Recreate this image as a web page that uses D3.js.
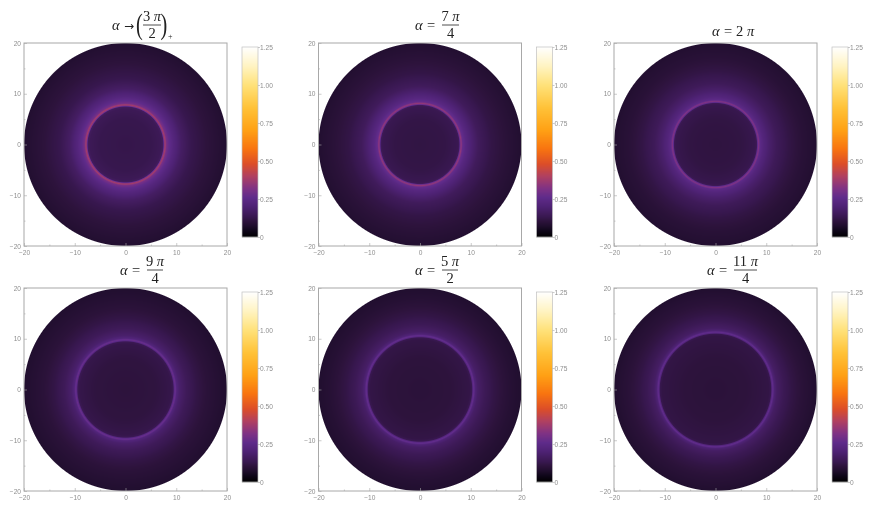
<!DOCTYPE html>
<html><head><meta charset="utf-8">
<style>
html,body{margin:0;padding:0;background:#fff;width:872px;height:518px;overflow:hidden}
#plot{position:absolute;left:0;top:0;filter:blur(0.45px)}
#over{position:absolute;left:0;top:0}
.tick text{font-family:"Liberation Sans",sans-serif;font-size:6.6px;fill:#8e8e8e}
.m{font-family:"Liberation Serif",serif;fill:#222;font-size:14.5px}
</style></head><body>
<canvas id="plot" width="872" height="518"></canvas>
<svg id="over" width="872" height="518"></svg>
<script src="https://cdn.jsdelivr.net/npm/d3@7"></script>
<script>
const axisTicks=[-20,-10,0,10,20];
const minorTicks=[-15,-5,5,15];
const barTicks=[0,0.25,0.5,0.75,1,1.25];
const barTickLabels=["0","0.25","0.50","0.75","1.00","1.25"];
const colorValues=[0,0.04,0.075,0.105,0.13,0.16,0.2,0.26,0.32,0.4,0.48,0.58,0.7,0.85,1.0,1.12,1.25];
const colorStops=["#000000","#0e0618","#200e2e","#2d133c","#37174e","#421c5e","#4e2274","#5f2b8a","#803284","#b04060","#dc4e28","#f87410","#ffa014","#ffc238","#ffe27a","#fff3c0","#ffffff"];
const titleOperators=["→","=","=","=","=","="];
const titleNumerators=["3 π","7 π","2 π","9 π","5 π","11 π"];
const titleDenominators=["2","4","","4","2","4"];
const radii1=[0,5,7,7.4,7.6,7.8,8.1,8.6,9.4,11,13,16,20];
const values1=[0.125,0.13,0.145,0.16,0.32,0.38,0.3,0.26,0.225,0.17,0.13,0.105,0.08];
const radii2=[0,5,7.4,7.7,7.9,8.1,8.4,9,10,11.5,14,17,20];
const values2=[0.115,0.12,0.135,0.15,0.29,0.35,0.27,0.235,0.2,0.155,0.12,0.098,0.08];
const radii3=[0,5,7.8,8.1,8.3,8.5,8.8,9.4,10.5,12,14.5,17,20];
const values3=[0.11,0.115,0.13,0.145,0.27,0.32,0.25,0.22,0.185,0.15,0.118,0.096,0.08];
const radii4=[0,6,9,9.4,9.6,9.8,10.1,10.6,12,14,16,18,20];
const values4=[0.105,0.11,0.125,0.14,0.24,0.28,0.215,0.185,0.15,0.12,0.1,0.088,0.077];
const radii5=[0,6,9.8,10.2,10.4,10.6,10.9,11.4,12.8,14.5,16.5,18,20];
const values5=[0.1,0.105,0.12,0.135,0.23,0.27,0.205,0.175,0.145,0.12,0.1,0.088,0.077];
const radii6=[0,6,10.5,10.9,11.1,11.3,11.6,12.1,13.5,15,17,18.5,20];
const values6=[0.1,0.105,0.118,0.13,0.225,0.265,0.2,0.17,0.14,0.118,0.098,0.088,0.077];
const allRadii=[radii1,radii2,radii3,radii4,radii5,radii6];
const allValues=[values1,values2,values3,values4,values5,values6];

const color=d3.scaleLinear().domain(colorValues).range(colorStops).clamp(true);
const colOrigins=[24,318.5,614], rowOrigins=[43,288], size=203, barW=16;
const alphaX=[112,415,712,120,415,707], fracX=[143,442,736,147,442,734], fracW=[18,17,0,16,16,23];
const svg=d3.select("#over");
const ctx=document.getElementById("plot").getContext("2d");
const img=ctx.createImageData(872,518);
img.data.fill(255);

allRadii.forEach((radii,k)=>{
  const ox=colOrigins[k%3], oy=rowOrigins[Math.floor(k/3)];
  const x=d3.scaleLinear().domain([-20,20]).range([ox,ox+size]);
  const y=d3.scaleLinear().domain([-20,20]).range([oy+size,oy]);
  const profile=d3.scaleLinear().domain(radii).range(allValues[k]).clamp(true);
  for(let py=Math.floor(oy);py<oy+size;py++)for(let px=Math.floor(ox);px<ox+size;px++){
    const dx=x.invert(px+0.5),dy=y.invert(py+0.5),r=Math.hypot(dx,dy);
    const a=Math.max(0,Math.min(1,(20-r)/(40/size)+0.5));
    if(a<=0)continue;
    const c=d3.rgb(color(profile(r)));
    const j=(py*872+px)*4;
    img.data[j]=255+(c.r-255)*a;img.data[j+1]=255+(c.g-255)*a;img.data[j+2]=255+(c.b-255)*a;
  }
  const g=svg.append("g");
  g.append("rect").attr("x",ox).attr("y",oy).attr("width",size).attr("height",size)
    .attr("fill","none").attr("stroke","#a8a8a8").attr("stroke-width",1);
  const styleAxis=s=>{s.select(".domain").remove();s.selectAll("line").attr("stroke","#a8a8a8").attr("stroke-width",.6);};
  g.append("g").attr("transform",`translate(0,${oy+size})`)
    .call(d3.axisBottom(x).tickValues(axisTicks).tickSize(-3).tickPadding(4).tickFormat(d3.format("d"))).call(styleAxis);
  g.append("g").attr("transform",`translate(${ox},0)`)
    .call(d3.axisLeft(y).tickValues(axisTicks).tickSize(-3).tickPadding(3).tickFormat(d3.format("d"))).call(styleAxis);
  g.append("g").attr("transform",`translate(0,${oy+size})`)
    .call(d3.axisBottom(x).tickValues(minorTicks).tickSize(-1.5).tickFormat("")).call(styleAxis);
  g.append("g").attr("transform",`translate(${ox},0)`)
    .call(d3.axisLeft(y).tickValues(minorTicks).tickSize(-1.5).tickFormat("")).call(styleAxis);

  const bx=ox+218, bTop=oy+4, bBot=oy+194;
  const b=d3.scaleLinear().domain([0,1.25]).range([bBot,bTop]);
  g.append("g").selectAll("rect").data(d3.range(bTop,bBot)).join("rect")
    .attr("x",bx).attr("y",d=>d).attr("width",barW).attr("height",1.2)
    .attr("fill",d=>color(b.invert(d+0.5)));
  g.append("rect").attr("x",bx).attr("y",bTop).attr("width",barW).attr("height",bBot-bTop)
    .attr("fill","none").attr("stroke","#c0c0c0").attr("stroke-width",.7);
  g.append("g").attr("transform",`translate(${bx+barW},0)`)
    .call(d3.axisRight(b).tickValues(barTicks).tickSize(2).tickPadding(0).tickFormat((d,i)=>barTickLabels[i])).call(styleAxis);

  const t=svg.append("g");
  const ly=oy-18;
  const parts=titleNumerators[k].split(" ");
  const base=titleDenominators[k]===""?oy-7:ly+5;
  t.append("text").attr("class","m").attr("x",alphaX[k]).attr("y",base).attr("font-style","italic").text("α");
  const op=t.append("text").attr("class","m").attr("x",alphaX[k]+12).attr("y",base).text(titleOperators[k]);
  if(k===0) op.style("font-family","DejaVu Sans").style("font-size","12px");
  if(titleDenominators[k]===""){
    const n=t.append("text").attr("class","m").attr("x",fracX[k]).attr("y",base);
    n.append("tspan").text(parts[0]+" ");
    n.append("tspan").attr("font-style","italic").text(parts[1]);
    return;
  }
  const fx=fracX[k], fw=fracW[k];
  t.append("line").attr("x1",fx).attr("x2",fx+fw).attr("y1",ly).attr("y2",ly).attr("stroke","#222").attr("stroke-width",.8);
  const n=t.append("text").attr("class","m").attr("x",fx+fw/2).attr("y",ly-4).attr("text-anchor","middle");
  n.append("tspan").text(parts[0]+" ");
  n.append("tspan").attr("font-style","italic").text(parts[1]);
  t.append("text").attr("class","m").attr("x",fx+fw/2).attr("y",ly+13).attr("text-anchor","middle").text(titleDenominators[k]);
  if(k===0){
    t.append("text").attr("class","m").attr("transform",`translate(${fx-7},${ly+9}) scale(0.7,1)`).style("font-size","29px").text("(");
    t.append("text").attr("class","m").attr("transform",`translate(${fx+fw-0.5},${ly+9}) scale(0.7,1)`).style("font-size","29px").text(")");
    t.append("text").attr("class","m").attr("x",fx+fw+7).attr("y",ly+14).style("font-size","8px").text("+");
  }
});
ctx.putImageData(img,0,0);
</script></body></html>
